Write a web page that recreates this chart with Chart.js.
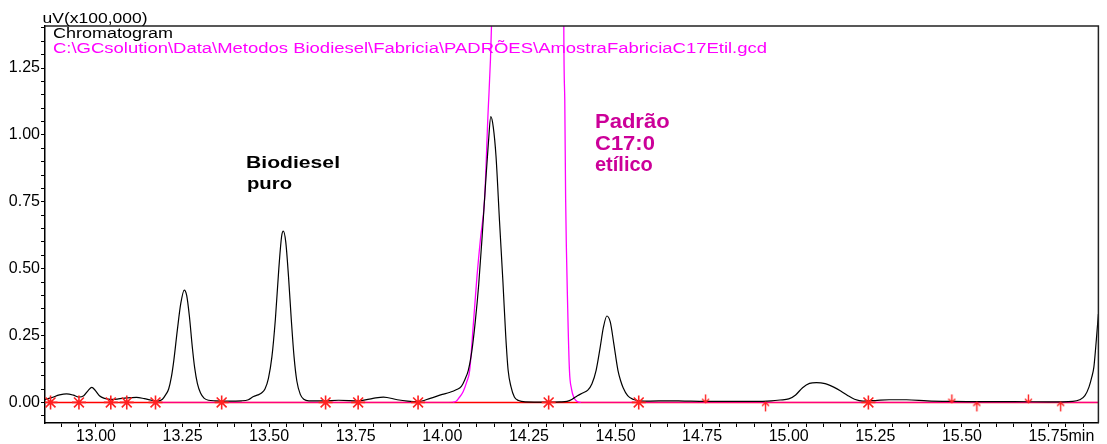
<!DOCTYPE html>
<html><head><meta charset="utf-8">
<script src="https://cdn.jsdelivr.net/npm/chart.js@4.4.1/dist/chart.umd.min.js"></script>
<style>html,body{margin:0;padding:0;background:#fff;} #c{display:block;}</style>
</head><body>
<canvas id="c" width="1107" height="444"></canvas>
<script>
// ---- data (time in min, signal in uV x100,000) ----
const sampleTimes = [12.853,12.872,12.895,12.915,12.935,12.950,12.965,12.978,12.988,12.998,13.010,13.025,13.045,13.065,13.089,13.117,13.140,13.160,13.178,13.192,13.202,13.210,13.218,13.225,13.235,13.245,13.255,13.262,13.270,13.278,13.285,13.293,13.302,13.312,13.325,13.345,13.380,13.420,13.440,13.455,13.468,13.478,13.488,13.498,13.508,13.518,13.528,13.536,13.541,13.548,13.556,13.564,13.572,13.580,13.590,13.600,13.615,13.660,13.700,13.760,13.800,13.830,13.870,13.900,13.930,13.965,14.000,14.020,14.040,14.055,14.065,14.075,14.085,14.095,14.105,14.115,14.125,14.133,14.140,14.147,14.155,14.165,14.175,14.183,14.190,14.198,14.208,14.220,14.240,14.300,14.340,14.360,14.375,14.390,14.405,14.420,14.432,14.444,14.455,14.465,14.475,14.485,14.495,14.507,14.515,14.522,14.535,14.550,14.570,14.600,14.650,14.700,14.760,14.820,14.900,14.950,14.975,15.000,15.020,15.040,15.060,15.080,15.105,15.130,15.150,15.170,15.190,15.215,15.250,15.290,15.340,15.400,15.470,15.550,15.650,15.750,15.820,15.840,15.855,15.867,15.875,15.881,15.888,15.894];
const sampleSignal = [0.011,0.018,0.028,0.032,0.027,0.020,0.025,0.045,0.056,0.045,0.025,0.015,0.011,0.013,0.017,0.019,0.014,0.008,0.005,0.012,0.030,0.050,0.096,0.158,0.270,0.370,0.420,0.400,0.320,0.210,0.130,0.070,0.035,0.016,0.008,0.006,0.005,0.006,0.010,0.022,0.028,0.035,0.050,0.090,0.170,0.310,0.500,0.620,0.640,0.600,0.470,0.310,0.170,0.080,0.030,0.012,0.006,0.006,0.008,0.006,0.015,0.020,0.010,0.005,0.003,0.015,0.030,0.037,0.047,0.060,0.085,0.120,0.190,0.300,0.440,0.620,0.820,0.970,1.068,1.030,0.920,0.680,0.450,0.250,0.120,0.060,0.020,0.007,0.002,0.001,0.002,0.004,0.012,0.025,0.035,0.046,0.070,0.120,0.200,0.280,0.323,0.300,0.220,0.120,0.080,0.055,0.025,0.012,0.006,0.005,0.006,0.005,0.004,0.004,0.004,0.006,0.009,0.013,0.028,0.055,0.071,0.074,0.070,0.057,0.043,0.026,0.012,0.005,0.007,0.010,0.010,0.006,0.004,0.003,0.003,0.002,0.004,0.010,0.025,0.058,0.095,0.133,0.233,0.330];

const standardTimes = [13.170,13.500,14.000,14.030,14.040,14.047,14.060,14.070,14.079,14.090,14.100,14.110,14.122,14.131,14.142,14.150,14.200,14.250,14.300,14.345,14.3507,14.3535,14.356,14.362,14.367,14.373,14.380,14.388,14.400,15.000,15.894];
const standardSignal = [0,0,0,0.001,0.004,0.015,0.040,0.075,0.120,0.300,0.470,0.610,0.760,1.050,1.410,2.000,8.000,12.000,10.000,5.000,1.410,1.130,0.760,0.350,0.120,0.050,0.018,0.004,0,0,0];

const baselineTimes = [12.853, 15.894];
const baselineSignal = [0, 0];

const peakMarkTimes = [12.869,12.951,13.043,13.089,13.172,13.363,13.663,13.757,13.930,14.307,14.567,15.230];
const arrowDownTimes = [14.760,15.471,15.692];
const arrowUpTimes = [14.933,15.543,15.785];

const xTickLabels = ['13.00','13.25','13.50','13.75','14.00','14.25','14.50','14.75','15.00','15.25','15.50','15.75'];
const yTickLabels = ['0.00','0.25','0.50','0.75','1.00','1.25'];
const xBounds = [12.853, 15.894];
const yBounds = [-0.077, 1.407];

const yTitle = 'uV(x100,000)';
const traceName = 'Chromatogram';
const filePath = 'C:\\GCsolution\\Data\\Metodos Biodiesel\\Fabricia\\PADRÕES\\AmostraFabriciaC17Etil.gcd';
const noteBlack = ['Biodiesel', 'puro'];
const noteStd = ['Padrão', 'C17:0', 'etílico'];

// ---- helpers ----
const FONT = "'Liberation Sans', Arial, Helvetica, sans-serif";
const pts = (ts, vs) => ts.map((t, i) => ({x: t, y: vs[i]}));

function makeArrow(dir) {
  const c = document.createElement('canvas');
  c.width = 9; c.height = 22;
  const g = c.getContext('2d');
  g.strokeStyle = '#ff2020'; g.lineWidth = 1.4;
  g.beginPath();
  if (dir === 'down') {
    g.moveTo(4.5, 3); g.lineTo(4.5, 11);
    g.moveTo(1, 7.5); g.lineTo(4.5, 11); g.lineTo(8, 7.5);
  } else {
    g.moveTo(4.5, 20); g.lineTo(4.5, 11);
    g.moveTo(1, 14.5); g.lineTo(4.5, 11); g.lineTo(8, 14.5);
  }
  g.stroke();
  return c;
}

function stretchText(ctx, text, x, y, font, color, sx) {
  ctx.save();
  ctx.font = font;
  ctx.fillStyle = color;
  ctx.textAlign = 'left';
  ctx.textBaseline = 'alphabetic';
  ctx.translate(x, y);
  ctx.scale(sx, 1);
  ctx.fillText(text, 0, 0);
  ctx.restore();
}
function fitText(ctx, text, x, y, font, color, width) {
  ctx.save();
  ctx.font = font;
  const w = ctx.measureText(text).width;
  ctx.restore();
  stretchText(ctx, text, x, y, font, color, width / w);
}

const decor = {
  id: 'decor',
  afterDraw(chart) {
    const ctx = chart.ctx, a = chart.chartArea;
    ctx.save();
    ctx.strokeStyle = '#222'; ctx.lineWidth = 1.5;
    ctx.beginPath();
    ctx.moveTo(a.left, a.top); ctx.lineTo(a.right, a.top); ctx.lineTo(a.right, a.bottom);
    ctx.stroke();
    ctx.restore();

    fitText(ctx, yTitle, 42.5, 23, '14px ' + FONT, '#000', 105);
    fitText(ctx, traceName, 53, 37.5, '14px ' + FONT, '#000', 120);
    fitText(ctx, filePath, 53, 52.5, '14px ' + FONT, '#ff00ff', 714);

    const bfont = 'bold 17px ' + FONT;
    fitText(ctx, noteBlack[0], 246, 167.5, bfont, '#000', 94);
    fitText(ctx, noteBlack[1], 247, 188.5, bfont, '#000', 45);
    const pfont = 'bold 20px ' + FONT;
    stretchText(ctx, noteStd[0], 595, 128, pfont, '#cc0099', 1.1);
    stretchText(ctx, noteStd[1], 595, 150, pfont, '#cc0099', 1.1);
    stretchText(ctx, noteStd[2], 595, 171, pfont, '#cc0099', 1.0);

    // 'min' unit after the last x label
    const xs = chart.scales.x;
    const tickFont = '16px ' + FONT;
    ctx.save();
    ctx.font = tickFont;
    const lastLabel = xTickLabels[xTickLabels.length - 1];
    const w = ctx.measureText(lastLabel).width;
    let ly = a.bottom + 4 + 1 + 9.6, base = 'middle';
    const items = xs._labelItems || [];
    for (const it of items) {
      if (it.label === lastLabel) {
        ly = it.options.translation[1] + (it.textOffset || 0);
        base = it.options.textBaseline || 'middle';
      }
    }
    ctx.fillStyle = '#000';
    ctx.textAlign = 'left';
    ctx.textBaseline = base;
    ctx.fillText('min', xs.getPixelForValue(parseFloat(lastLabel)) + w / 2, ly);
    ctx.restore();
  }
};

const stdColor = (c) => {
  const y0 = c.p0.parsed.y, y1 = c.p1.parsed.y;
  return (y0 < 0.002 && y1 < 0.002) ? 'rgba(255,0,255,0.5)' : '#ff00ff';
};

new Chart(document.getElementById('c'), {
  type: 'line',
  data: {
    datasets: [
      { data: pts(peakMarkTimes, peakMarkTimes.map(() => 0)), showLine: false,
        pointStyle: 'star', pointRadius: 7, pointBorderColor: '#ff2020', pointBackgroundColor: '#ff2020',
        pointBorderWidth: 1.6, order: 0 },
      { data: pts(arrowDownTimes, arrowDownTimes.map(() => 0)), showLine: false,
        pointStyle: makeArrow('down'), pointRadius: 5, order: 0 },
      { data: pts(arrowUpTimes, arrowUpTimes.map(() => 0)), showLine: false,
        pointStyle: makeArrow('up'), pointRadius: 5, order: 0 },
      { data: pts(sampleTimes, sampleSignal), borderColor: '#000', borderWidth: 1.2,
        pointRadius: 0, cubicInterpolationMode: 'monotone', order: 1 },
      { data: pts(standardTimes, standardSignal), borderColor: '#ff00ff', borderWidth: 1.3,
        pointRadius: 0, cubicInterpolationMode: 'monotone', segment: { borderColor: stdColor }, order: 2 },
      { data: pts(baselineTimes, baselineSignal), borderColor: '#ff0000', borderWidth: 1.5,
        pointRadius: 0, order: 3 }
    ]
  },
  options: {
    responsive: false,
    animation: false,
    devicePixelRatio: 1,
    layout: { padding: { top: 26, right: 8, left: 0, bottom: 0 } },
    plugins: { legend: { display: false }, tooltip: { enabled: false } },
    scales: {
      x: {
        type: 'linear', min: xBounds[0], max: xBounds[1],
        afterFit: (s) => { s.height = 21; },
        border: { display: true, color: '#000', width: 1.5 },
        grid: { drawOnChartArea: false, drawTicks: true, tickLength: 4, color: '#000', lineWidth: 1 },
        ticks: {
          stepSize: 0.05, includeBounds: false, autoSkip: false, maxRotation: 0, minRotation: 0,
          padding: 0, color: '#000', font: { family: FONT, size: 16 },
          callback: (v) => { const s = Number(v).toFixed(2); return xTickLabels.includes(s) ? s : ''; }
        }
      },
      y: {
        type: 'linear', min: yBounds[0], max: yBounds[1],
        afterFit: (s) => { s.width = 45; },
        border: { display: true, color: '#000', width: 1.5 },
        grid: { drawOnChartArea: false, drawTicks: true, tickLength: 4, color: '#000', lineWidth: 1 },
        ticks: {
          stepSize: 0.05, includeBounds: false, autoSkip: false,
          padding: 1, color: '#000', font: { family: FONT, size: 16 },
          callback: (v) => { const s = Number(v).toFixed(2); return yTickLabels.includes(s) ? s : ''; }
        }
      }
    }
  },
  plugins: [decor]
});
</script>
</body></html>
